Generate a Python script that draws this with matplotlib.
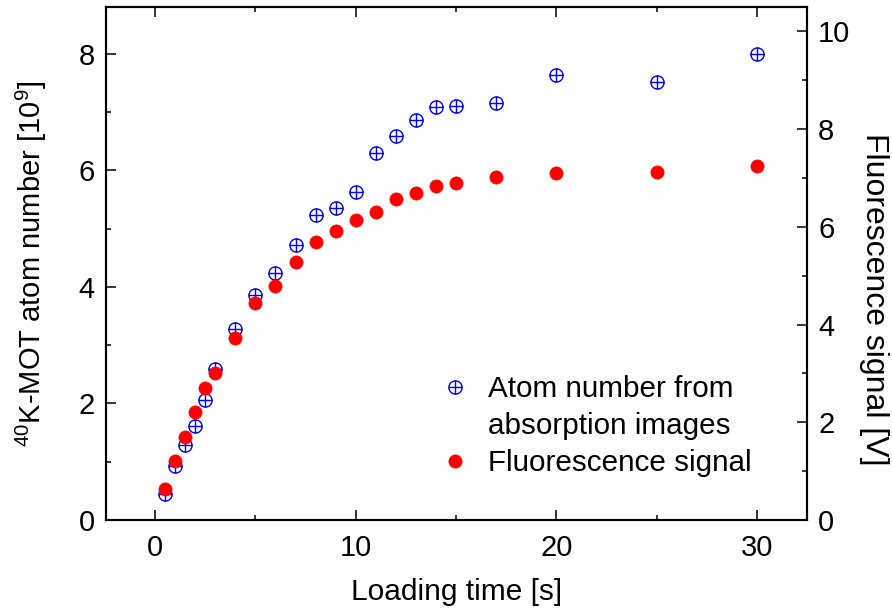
import numpy as np
import matplotlib
matplotlib.use('Agg')
import matplotlib.pyplot as plt
from matplotlib.path import Path
from matplotlib.lines import Line2D
from matplotlib.ticker import MultipleLocator

plt.rcParams['font.family'] = 'Liberation Sans'
plt.rcParams['mathtext.fontset'] = 'custom'
plt.rcParams['mathtext.rm'] = 'Liberation Sans'
plt.rcParams['mathtext.it'] = 'Liberation Sans:italic'

# Datos
loading_time = [0.5, 1, 1.5, 2, 2.5, 3, 4, 5, 6, 7, 8, 9, 10, 11, 12, 13, 14, 15, 17, 20, 25, 30]
atom_number = [0.44, 0.93, 1.28, 1.62, 2.06, 2.59, 3.28, 3.86, 4.23, 4.71, 5.23, 5.36,
               5.63, 6.30, 6.59, 6.87, 7.09, 7.10, 7.15, 7.63, 7.51, 8.00]
fluorescence = [0.64, 1.21, 1.69, 2.21, 2.71, 3.00, 3.72, 4.44, 4.79, 5.29, 5.70, 5.91,
                6.15, 6.30, 6.58, 6.69, 6.84, 6.90, 7.03, 7.10, 7.13, 7.24]

label_atoms = 'Atom number from'
label_atoms2 = 'absorption images'
label_fluor = 'Fluorescence signal'

fs = 21

# marcador circulo con cruz
circ = Path.unit_circle()
plus = Path([[-1, 0], [1, 0], [0, -1], [0, 1]],
            [Path.MOVETO, Path.LINETO, Path.MOVETO, Path.LINETO])
oplus = Path.make_compound_path(circ, plus)

fig = plt.figure(figsize=(8.92, 6.10), dpi=100)
ax = fig.add_axes([106 / 892, 1 - 520 / 610, 701 / 892, 513 / 610])
ax2 = ax.twinx()

h1, = ax.plot(loading_time, atom_number, linestyle='none', marker=oplus, markersize=9.5,
              markerfacecolor='none', markeredgecolor='#0000ff', markeredgewidth=1.0)
h2, = ax2.plot(loading_time, fluorescence, linestyle='none', marker='o', markersize=9.5,
               markerfacecolor='#ff0000', markeredgecolor='#ff0000', markeredgewidth=0.5)

ax.set_xlim(-2.45, 32.5)
ax.set_ylim(0, 8.8)
ax2.set_ylim(0, 10.5)

ax.xaxis.set_major_locator(MultipleLocator(10))
ax.xaxis.set_minor_locator(MultipleLocator(5))
ax.yaxis.set_major_locator(MultipleLocator(2))
ax.yaxis.set_minor_locator(MultipleLocator(1))
ax2.yaxis.set_major_locator(MultipleLocator(2))
ax2.yaxis.set_minor_locator(MultipleLocator(1))

for a in (ax, ax2):
    for s in a.spines.values():
        s.set_linewidth(1.5)
ax.tick_params(axis='x', which='both', direction='in', top=True, labelsize=fs, pad=10, width=1.1)
ax.tick_params(axis='y', which='both', direction='in', labelsize=fs, pad=8, width=1.1)
ax2.tick_params(axis='y', which='both', direction='in', labelsize=fs, pad=8, width=1.1)
for a in (ax, ax2):
    a.tick_params(which='major', length=7)
    a.tick_params(which='minor', length=3.5)

ax.set_xlabel('Loading time [s]', fontsize=21.5)
ax.xaxis.set_label_coords(0.5, -0.113)
ax.set_ylabel(r'$\mathregular{^{40}}$K-MOT atom number [10$\mathregular{^9}$]', fontsize=21)
ax.yaxis.set_label_coords(-0.081, 0.5)
ax2.set_ylabel('Fluorescence signal [V]', fontsize=23, rotation=270, va='bottom')
ax2.yaxis.set_label_coords(1.074, 0.43)

blank = Line2D([], [], linestyle='none')
ax2.legend([h1, blank, h2], [label_atoms, label_atoms2, label_fluor],
           loc='upper left', bbox_to_anchor=(0.477, 0.282), frameon=False,
           fontsize=21.3, handlelength=1.0, handletextpad=0.62, labelspacing=0.3,
           borderpad=0, borderaxespad=0)

fig.savefig('out.png', dpi=100)
